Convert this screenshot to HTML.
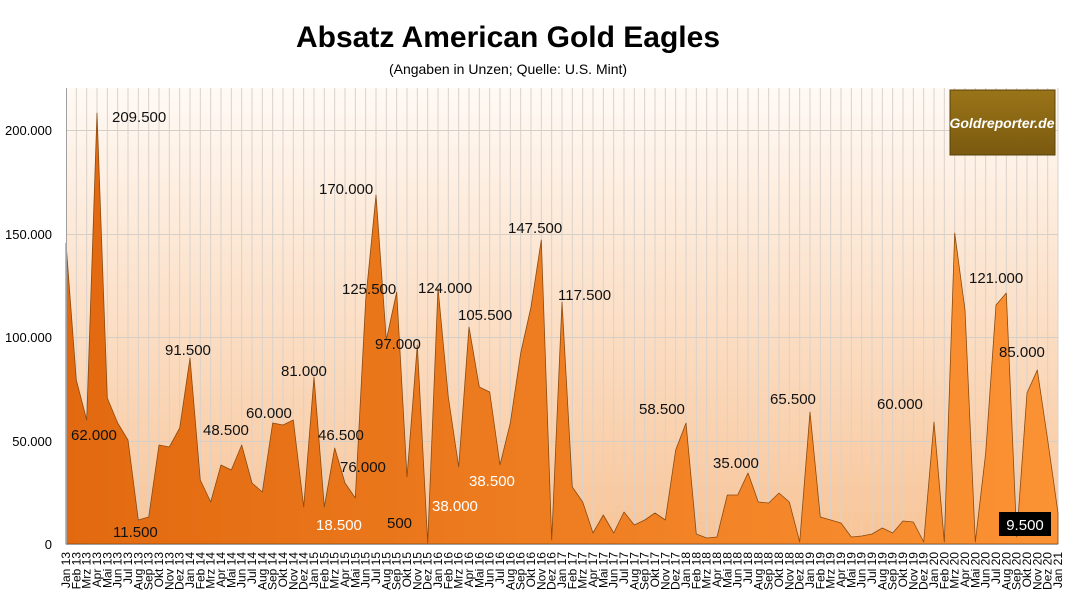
<!DOCTYPE html>
<html><head><meta charset="utf-8"><style>
body{margin:0;background:#fff;}
svg{display:block;font-family:"Liberation Sans",sans-serif;}
</style></head><body>
<svg width="1066" height="605" viewBox="0 0 1066 605" xmlns="http://www.w3.org/2000/svg">
<defs>
<linearGradient id="bg" x1="0" y1="0" x2="0" y2="1">
<stop offset="0" stop-color="#fffaf5"/><stop offset="1" stop-color="#f8c497"/></linearGradient>
<linearGradient id="ar" x1="0" y1="0" x2="1" y2="0">
<stop offset="0" stop-color="#e2690f"/><stop offset="1" stop-color="#fb9233"/></linearGradient>
<linearGradient id="logo" x1="0" y1="0" x2="0" y2="1">
<stop offset="0" stop-color="#9a7418"/><stop offset="1" stop-color="#7a5a10"/></linearGradient>
</defs>
<rect x="66" y="88" width="992" height="456" fill="url(#bg)"/>
<g stroke="#d9d2cc" stroke-width="1" id="vg"></g>
<g stroke="#d6cfc8" stroke-width="1">
<line x1="66" y1="130.5" x2="1058" y2="130.5"/><line x1="66" y1="234.5" x2="1058" y2="234.5"/>
<line x1="66" y1="337.5" x2="1058" y2="337.5"/><line x1="66" y1="441.5" x2="1058" y2="441.5"/>
</g>
<polygon fill="url(#ar)" stroke="#8a4a10" stroke-width="0.8" stroke-linejoin="round" points="66,544 66,243 76.3,380 86.7,420 97,113 107.3,398 117.7,423 128,440 138.3,520 148.7,517 159,445 169.3,447 179.7,428 190,358 200.3,480 210.7,502 221,465 231.3,470 241.7,445 252,483 262.3,492 272.7,423 283,425 293.3,420 303.7,507 314,377 324.3,507 334.7,448 345,483 355.3,498 365.7,300 376,195 386.3,340 396.7,292 407,477 417.3,345 427.7,543 438,288 448.3,397 458.7,467 469,327 479.3,387 489.7,392 500,465 510.3,423 520.7,353 531,307 541.3,240 551.7,540 562,302 572.3,487 582.7,502 593,533 603.3,515 613.7,533 624,512 634.3,525 644.7,520 655,513 665.3,520 675.7,450 686,423 696.3,534 706.7,538 717,537 727.3,495 737.7,495 748,473 758.3,502 768.7,503 779,493 789.3,502 799.7,542 810,412 820.3,517 830.7,520 841,523 851.3,537 861.7,536 872,534 882.3,528 892.7,533 903,521 913.3,522 923.7,542 934,422 944.3,542 954.7,233 965,310 975.3,542 985.7,453 996,305 1006.3,293 1016.7,537 1027,393 1037.3,370 1047.7,440 1058,513 1058,544"/>
<line x1="66.5" y1="88" x2="66.5" y2="545" stroke="#a0a0a0"/>
<line x1="66" y1="544.5" x2="1058" y2="544.5" stroke="#a0a0a0"/>
<g font-size="13" fill="#000" text-anchor="end">
<text x="52" y="135">200.000</text><text x="52" y="239">150.000</text>
<text x="52" y="342">100.000</text><text x="52" y="446">50.000</text><text x="52" y="549">0</text>
</g>
<text x="508" y="47" font-size="30" font-weight="bold" text-anchor="middle">Absatz American Gold Eagles</text>
<text x="508" y="74" font-size="14" text-anchor="middle">(Angaben in Unzen; Quelle: U.S. Mint)</text>
<rect x="950" y="90" width="105" height="65" fill="url(#logo)" stroke="#5a420c"/>
<text x="1002" y="128" font-size="14" font-weight="bold" font-style="italic" fill="#fff" text-anchor="middle">Goldreporter.de</text>
<g font-size="15" fill="#111">
<text x="112" y="122">209.500</text><text x="71" y="440">62.000</text><text x="113" y="537">11.500</text>
<text x="165" y="355">91.500</text><text x="203" y="435">48.500</text><text x="246" y="418">60.000</text>
<text x="281" y="376">81.000</text><text x="318" y="440">46.500</text><text x="340" y="472">76.000</text>
<text x="319" y="194">170.000</text><text x="342" y="294">125.500</text><text x="375" y="349">97.000</text>
<text x="387" y="528">500</text><text x="418" y="293">124.000</text><text x="458" y="320">105.500</text>
<text x="508" y="233">147.500</text><text x="558" y="300">117.500</text><text x="639" y="414">58.500</text>
<text x="713" y="468">35.000</text><text x="770" y="404">65.500</text><text x="877" y="409">60.000</text>
<text x="969" y="283">121.000</text><text x="999" y="357">85.000</text>
</g>
<g font-size="15" fill="#fff">
<text x="316" y="530">18.500</text><text x="432" y="511">38.000</text><text x="469" y="486">38.500</text>
</g>
<rect x="999" y="512" width="52" height="24" fill="#000"/>
<text x="1025" y="530" font-size="15" fill="#fff" text-anchor="middle">9.500</text>
<g font-size="12" fill="#000" text-anchor="end" id="xl"></g>
</svg>
<script>
var ns="http://www.w3.org/2000/svg",vg=document.getElementById("vg"),xl=document.getElementById("xl");
var m=["Jan","Feb","Mrz","Apr","Mai","Jun","Jul","Aug","Sep","Okt","Nov","Dez"];
for(var i=0;i<97;i++){var x=66+i*992/96;
if(i>0){var l=document.createElementNS(ns,"line");l.setAttribute("x1",x);l.setAttribute("x2",x);l.setAttribute("y1",88);l.setAttribute("y2",544);vg.appendChild(l);}
var t=document.createElementNS(ns,"text");var xx=x+4;t.setAttribute("x",xx);t.setAttribute("y",552);
t.setAttribute("transform","rotate(-90 "+xx+" 552)");t.textContent=m[i%12]+" "+(13+Math.floor(i/12));xl.appendChild(t);}
</script>
</body></html>
